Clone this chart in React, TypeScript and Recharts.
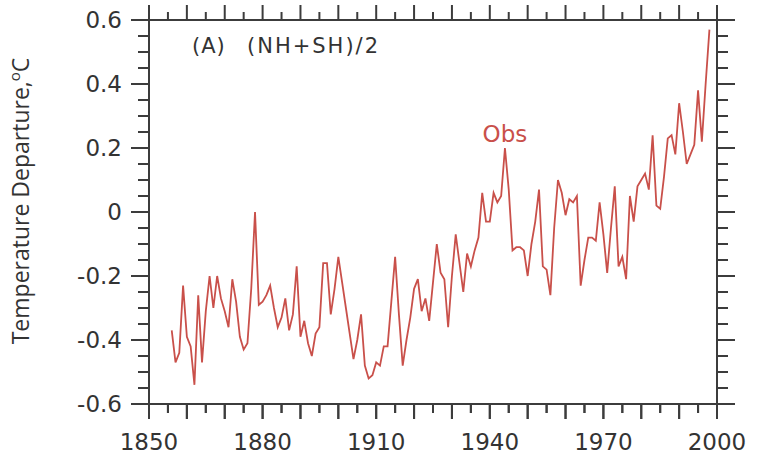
import { Line, LineChart, ReferenceDot, XAxis, YAxis } from "recharts";

// annual global mean temperature departure (degC)
const firstYear = 1856;
const anomalies1856to1899 = [
  -0.37, -0.47, -0.44, -0.23, -0.39, -0.42, -0.54, -0.26, -0.47, -0.31,
  -0.2, -0.3, -0.2, -0.27, -0.31, -0.36, -0.21, -0.28, -0.39, -0.43,
  -0.41, -0.24, 0.0, -0.29, -0.28, -0.26, -0.23, -0.3, -0.36, -0.33,
  -0.27, -0.37, -0.32, -0.17, -0.39, -0.34, -0.41, -0.45, -0.38, -0.36,
  -0.16, -0.16, -0.32, -0.24,
];
const anomalies1900to1949 = [
  -0.14, -0.22, -0.3, -0.38, -0.46, -0.4, -0.32, -0.48, -0.52, -0.51,
  -0.47, -0.48, -0.42, -0.42, -0.28, -0.14, -0.32, -0.48, -0.4, -0.33,
  -0.24, -0.21, -0.31, -0.27, -0.34, -0.22, -0.1, -0.19, -0.21, -0.36,
  -0.2, -0.07, -0.16, -0.25, -0.13, -0.17, -0.12, -0.08, 0.06, -0.03,
  -0.03, 0.06, 0.03, 0.05, 0.2, 0.07, -0.12, -0.11, -0.11, -0.12,
];
const anomalies1950to1998 = [
  -0.2, -0.1, -0.03, 0.07, -0.17, -0.18, -0.26, -0.05, 0.1, 0.06,
  -0.01, 0.04, 0.03, 0.05, -0.23, -0.15, -0.08, -0.08, -0.09, 0.03,
  -0.07, -0.19, -0.05, 0.08, -0.17, -0.14, -0.21, 0.05, -0.03, 0.08,
  0.1, 0.12, 0.07, 0.24, 0.02, 0.01, 0.11, 0.23, 0.24, 0.18,
  0.34, 0.25, 0.15, 0.18, 0.21, 0.38, 0.22, 0.4, 0.57,
];

const xTicks = [
  1850, 1855, 1860, 1865, 1870, 1875, 1880, 1885, 1890, 1895, 1900, 1905, 1910,
  1915, 1920, 1925, 1930, 1935, 1940, 1945, 1950, 1955, 1960, 1965, 1970, 1975,
  1980, 1985, 1990, 1995, 2000,
];
const xLabelYears = [1850, 1880, 1910, 1940, 1970, 2000];
const yTicks = [
  -0.6, -0.55, -0.5, -0.45, -0.4, -0.35, -0.3, -0.25, -0.2, -0.15, -0.1, -0.05,
  0, 0.05, 0.1, 0.15, 0.2, 0.25, 0.3, 0.35, 0.4, 0.45, 0.5, 0.55, 0.6,
];
const yLabelValues = [-0.6, -0.4, -0.2, 0, 0.2, 0.4, 0.6];

const peakYear = 1944;
const peakValue = 0.2;

const data = [...anomalies1856to1899, ...anomalies1900to1949, ...anomalies1950to1998].map(
  (value, i) => ({ year: firstYear + i, value })
);

const WIDTH = 761;
const HEIGHT = 458;
const X_AXIS_HEIGHT = 54;
const Y_AXIS_WIDTH = 149;
const RIGHT_MARGIN = 43;
const PLOT_TOP = 20;
const PLOT_BOTTOM = HEIGHT - X_AXIS_HEIGHT;
const PLOT_LEFT = Y_AXIS_WIDTH;
const PLOT_RIGHT = WIDTH - RIGHT_MARGIN - 1;
const X_MIN = 1850;
const X_MAX = 2000;

const AXIS = "#3c3c3c";
const TEXT = "#333";
const RED = "#c9504a";
const FONT = "'DejaVu Sans', sans-serif";

const isMajorX = (v: number) => v % 10 === 0;
const isMajorY = (v: number) => Math.round(v * 100) % 20 === 0;
const yLabel = (v: number) => (Math.abs(v) < 1e-9 ? "0" : v.toFixed(1));
const bottomTickLen = (v: number) => (isMajorX(v) ? 15 : 9);

function BottomTick(props: any) {
  const x = Number(props.x);
  const y = Number(props.y);
  const v = props.payload.value;
  return (
    <g>
      <rect x={x - 1} y={y} width={2} height={bottomTickLen(v)} fill={AXIS} />
      {xLabelYears.includes(v) && (
        <text x={x} y={y + 46} textAnchor="middle" fontSize={23} fontFamily={FONT} fill={TEXT}>
          {v}
        </text>
      )}
    </g>
  );
}

function TopTick(props: any) {
  const x = Number(props.x);
  const y = Number(props.y);
  const v = props.payload.value;
  const len = isMajorX(v) ? 15 : 8;
  return <rect x={x - 1} y={y - len} width={2} height={len} fill={AXIS} />;
}

function LeftTick(props: any) {
  const x = Number(props.x);
  const y = Number(props.y);
  const v = props.payload.value;
  const len = isMajorY(v) ? 18 : 11;
  const shown = yLabelValues.some((l) => Math.abs(l - v) < 1e-9);
  return (
    <g>
      <rect x={x - len} y={y - 1} width={len} height={2} fill={AXIS} />
      {shown && (
        <text x={x - 27} y={y + 8} textAnchor="end" fontSize={23} fontFamily={FONT} fill={TEXT}>
          {yLabel(v)}
        </text>
      )}
    </g>
  );
}

function RightTick(props: any) {
  const x = Number(props.x);
  const y = Number(props.y);
  const v = props.payload.value;
  const len = isMajorY(v) ? 18 : 11;
  return <rect x={x} y={y - 1} width={len} height={2} fill={AXIS} />;
}

// bottom tick marks, drawn on a layer above the chart
function BottomTickOverlay() {
  const toX = (t: number) => PLOT_LEFT + ((t - X_MIN) / (X_MAX - X_MIN)) * (PLOT_RIGHT - PLOT_LEFT);
  return (
    <svg
      width={WIDTH}
      height={HEIGHT}
      style={{ position: "absolute", left: 0, top: 0, pointerEvents: "none", zIndex: 5 }}
    >
      {xTicks.map((t) => (
        <rect key={t} x={toX(t) - 1} y={PLOT_BOTTOM} width={2} height={bottomTickLen(t)} fill={AXIS} />
      ))}
    </svg>
  );
}

export default function App() {
  return (
    <div style={{ position: "absolute", left: 0, top: 0, width: WIDTH, height: HEIGHT, background: "#fff" }}>
      <LineChart
        width={WIDTH}
        height={HEIGHT}
        data={data}
        margin={{ top: PLOT_TOP - 1, right: RIGHT_MARGIN, bottom: 0, left: 0 }}
      >
        <XAxis
          dataKey="year"
          type="number"
          domain={[X_MIN, X_MAX]}
          ticks={xTicks}
          interval={0}
          height={X_AXIS_HEIGHT}
          tickSize={0}
          tickMargin={0}
          tick={BottomTick}
          tickLine={false}
          axisLine={{ stroke: AXIS, strokeWidth: 2 }}
          allowDataOverflow
        />
        <XAxis
          xAxisId="top"
          orientation="top"
          dataKey="year"
          type="number"
          domain={[X_MIN, X_MAX]}
          ticks={xTicks}
          interval={0}
          height={1}
          tickSize={0}
          tickMargin={0}
          tick={TopTick}
          tickLine={false}
          axisLine={{ stroke: AXIS, strokeWidth: 2 }}
          allowDataOverflow
        />
        <YAxis
          type="number"
          domain={[-0.6, 0.6]}
          ticks={yTicks}
          interval={0}
          width={Y_AXIS_WIDTH}
          tickSize={0}
          tickMargin={0}
          tick={LeftTick}
          tickLine={false}
          axisLine={{ stroke: AXIS, strokeWidth: 2 }}
          allowDataOverflow
        />
        <YAxis
          yAxisId="right"
          orientation="right"
          type="number"
          domain={[-0.6, 0.6]}
          ticks={yTicks}
          interval={0}
          width={1}
          tickSize={0}
          tickMargin={0}
          tick={RightTick}
          tickLine={false}
          axisLine={{ stroke: AXIS, strokeWidth: 2 }}
          allowDataOverflow
        />
        <Line
          xAxisId="top"
          yAxisId="right"
          type="linear"
          dataKey="value"
          stroke="none"
          dot={false}
          activeDot={false}
          legendType="none"
          isAnimationActive={false}
        />
        <Line
          type="linear"
          dataKey="value"
          stroke={RED}
          strokeWidth={1.8}
          dot={false}
          isAnimationActive={false}
        />
        <ReferenceDot
          x={peakYear}
          y={peakValue}
          r={0}
          fill="none"
          stroke="none"
          label={{ value: "Obs", position: "top", offset: 6, fill: RED, fontSize: 23, fontFamily: FONT }}
        />
        <text x={192} y={53} fontSize={21} fontFamily={FONT} fill={TEXT} letterSpacing={1}>
          (A)
        </text>
        <text x={247} y={53} fontSize={21} fontFamily={FONT} fill={TEXT} letterSpacing={2}>
          (NH+SH)/2
        </text>
        <text
          transform="translate(29,201) rotate(-90)"
          textAnchor="middle"
          fontSize={23}
          fontFamily="'Open Sans', sans-serif"
          fill={TEXT}
        >
          Temperature Departure,
          <tspan fontSize={15} dy={-9}>o</tspan>
          <tspan dy={9}>C</tspan>
        </text>
      </LineChart>
      <BottomTickOverlay />
    </div>
  );
}
